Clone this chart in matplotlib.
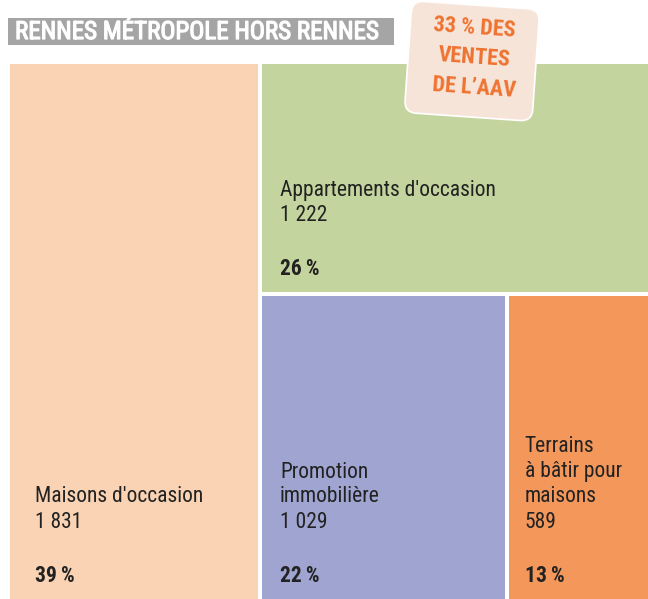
import matplotlib.pyplot as plt
from matplotlib.patches import Rectangle, FancyBboxPatch
from matplotlib import font_manager
import matplotlib.patheffects as pe
import matplotlib.transforms as mtransforms

# data
categories = ["Maisons d'occasion", "Appartements d'occasion", "Promotion\nimmobilière", "Terrains\nà bâtir pour\nmaisons"]
sales = [1831, 1222, 1029, 589]
value_labels = ["1 831", "1 222", "1 029", "589"]
shares = ["39\u2009%", "26\u2009%", "22\u2009%", "13\u2009%"]
title = "RENNES MÉTROPOLE HORS RENNES"
badge = "33 % DES\nVENTES\nDE L\u2019AAV"

colors = ["#F9D3B4", "#C4D49E", "#9FA5D0", "#F3975A"]

# pick the narrowest family that is actually installed
installed = {f.name for f in font_manager.fontManager.ttflist}
narrow = [n for n in ["Roboto Condensed", "Liberation Sans Narrow", "Open Sans Condensed",
                      "Liberation Sans"] if n in installed]
label_font = narrow[:1] + ["DejaVu Sans"]
condensed = narrow[0] != "Liberation Sans" if narrow else False
title_font = label_font
fs = 15.5 if condensed else 12.5

W, H = 648, 599
fig = plt.figure(figsize=(W / 100, H / 100), dpi=100)
ax = fig.add_axes([0, 0, 1, 1])
ax.set_xlim(0, W)
ax.set_ylim(H, 0)
ax.axis("off")

# treemap layout: first block left column, second on top right,
# last two share the bottom right row
x0, x1, y0, y1 = 10, W, 64, H
gap = 4
total = sum(sales)
xa = x0 + (x1 - x0) * sales[0] / total
rest = sum(sales[1:])
ya = y0 + (y1 - y0) * sales[1] / rest
xb = xa + (x1 - xa) * sales[2] / (sales[2] + sales[3])

boxes = [
    (x0, y0, xa - gap / 2, y1),
    (xa + gap / 2, y0, x1, ya - gap / 2),
    (xa + gap / 2, ya + gap / 2, xb - gap / 2, y1),
    (xb + gap / 2, ya + gap / 2, x1, y1),
]
pads = [25, 18, 18, 16]

for i, (l, t, r, b) in enumerate(boxes):
    ax.add_patch(Rectangle((l, t), r - l, b - t, facecolor=colors[i], edgecolor="none"))
    tx = l + pads[i]
    ax.text(tx, b - 23, shares[i], family=label_font, fontsize=fs,
            fontweight="bold", color="#222222", va="center", ha="left")
    ax.text(tx, b - 77, value_labels[i], family=label_font, fontsize=fs,
            color="#222222", va="center", ha="left")
    lines = categories[i].split("\n")
    for k, line in enumerate(reversed(lines)):
        ax.text(tx, b - 102 - 25 * k, line, family=label_font, fontsize=fs,
                color="#222222", va="center", ha="left")

# title banner
ax.add_patch(Rectangle((8, 18), 386, 27, facecolor="#A5A5A5", edgecolor="none"))
ax.text(15, 32, title, family=title_font, fontsize=18 if condensed else 15,
        fontweight="normal", color="white", va="center", ha="left",
        path_effects=[pe.withStroke(linewidth=0.9, foreground="white")])

# tilted badge
cx, cy = 472, 61
rot = mtransforms.Affine2D().rotate_deg_around(cx, cy, 4) + ax.transData
bw, bh = 128, 112
ax.add_patch(FancyBboxPatch((cx - bw / 2, cy - bh / 2), bw, bh,
                            boxstyle="round,pad=0,rounding_size=12",
                            facecolor="#F7E4D9", edgecolor="white",
                            linewidth=1.2, transform=rot, zorder=5))
for k, line in enumerate(badge.split("\n")):
    ax.text(cx + 2, cy - 33 + 30 * k, line, family=title_font, fontsize=16,
            fontweight="bold", color="#EE7330", ha="center", va="center",
            rotation=-4, rotation_mode="anchor", zorder=6)

fig.savefig("out.png", dpi=100)
